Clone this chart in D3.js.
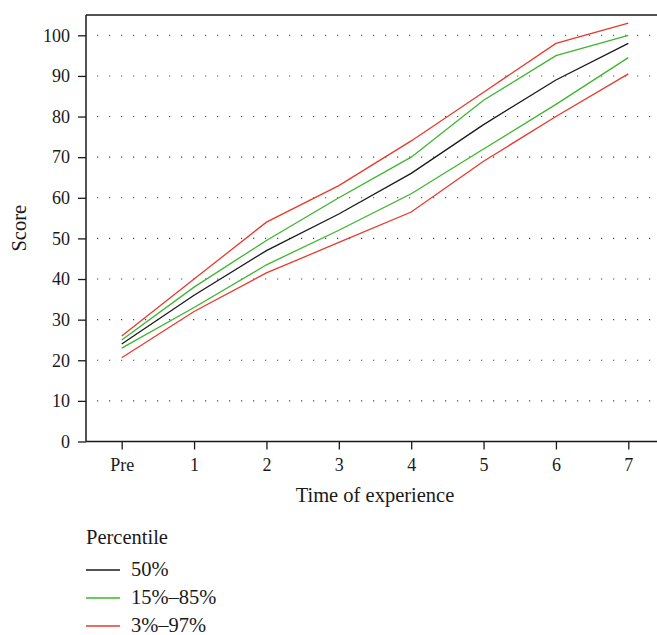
<!DOCTYPE html>
<html>
<head>
<meta charset="utf-8">
<script src="https://cdn.jsdelivr.net/npm/d3@7"></script>
<style>
  html, body { margin: 0; padding: 0; background: #fff; }
  svg { display: block; font-family: "Liberation Serif", "DejaVu Serif", serif; }
</style>
</head>
<body>
<svg id="chart" width="657" height="635"></svg>
<script>
// Time points on the x axis
const categories = ["Pre", "1", "2", "3", "4", "5", "6", "7"];

// Percentile curves of the score
const p50     = [24, 36, 47, 56, 66, 78, 89, 98];
const p15     = [23, 33, 43.5, 52, 61, 72, 83, 94.5];
const p85     = [25, 38, 49.5, 60, 70, 84, 95, 100];
const p3      = [20.6, 32, 41.5, 49, 56.5, 69, 80, 90.5];
const p97     = [26, 40, 54, 63, 74, 86, 98, 103];

const yTicks = [0, 10, 20, 30, 40, 50, 60, 70, 80, 90, 100];

const legendLabels = ["50%", "15%\u201385%", "3%\u201397%"];
const colors = { black: "#1a1a1a", green: "#3db52e", red: "#e8392c" };

const series = [
  { values: p97, color: colors.red },
  { values: p85, color: colors.green },
  { values: p50, color: colors.black },
  { values: p15, color: colors.green },
  { values: p3,  color: colors.red }
];

const svg = d3.select("#chart");
const plotLeft = 86, plotRight = 657, plotTop = 15, plotBottom = 441.5;
const tickFont = "18px", titleFont = "20.5px";

const x = d3.scalePoint().domain(categories).range([121.7, 628.3]);
const y = d3.scaleLinear().domain([0, 105]).range([plotBottom, plotTop]);

// dotted horizontal grid
svg.append("g").selectAll("line").data(yTicks.slice(1)).join("line")
  .attr("x1", 97).attr("x2", plotRight)
  .attr("y1", d => y(d)).attr("y2", d => y(d))
  .attr("stroke", "#444").attr("stroke-width", 1.1)
  .attr("stroke-dasharray", "1.2 10.8");

// frame: top border
svg.append("line").attr("x1", plotLeft).attr("x2", plotRight).attr("y1", plotTop).attr("y2", plotTop)
  .attr("stroke", "#1a1a1a").attr("stroke-width", 1.5);

// y axis
const yAxis = svg.append("g").attr("transform", `translate(${plotLeft},0)`)
  .call(d3.axisLeft(y).tickValues(yTicks).tickSize(8).tickPadding(8).tickSizeOuter(0));
yAxis.select(".domain").attr("d", `M0,${plotTop}V${plotBottom}`);

// x axis
const xAxis = svg.append("g").attr("transform", `translate(0,${plotBottom})`)
  .call(d3.axisBottom(x).tickSize(8).tickPadding(9).tickSizeOuter(0));
xAxis.select(".domain").attr("d", `M${plotLeft},0H${plotRight}`);

[yAxis, xAxis].forEach(a => {
  a.attr("font-family", null).attr("font-size", null);
  a.selectAll(".domain").attr("stroke", "#1a1a1a").attr("stroke-width", 1.5);
  a.selectAll(".tick line").attr("stroke", "#1a1a1a").attr("stroke-width", 1.3);
  a.selectAll("text").attr("fill", "#1a1a1a").style("font-size", tickFont);
});

// percentile lines
const line = d3.line().x((d, i) => x(categories[i])).y(d => y(d));
svg.append("g").selectAll("path").data(series).join("path")
  .attr("d", d => line(d.values))
  .attr("fill", "none").attr("stroke", d => d.color).attr("stroke-width", 1.3);

// axis titles
svg.append("text").attr("x", 375).attr("y", 501.5).attr("text-anchor", "middle")
  .attr("fill", "#1a1a1a").style("font-size", titleFont).text("Time of experience");
svg.append("text").attr("transform", `translate(26,${(plotTop + plotBottom) / 2}) rotate(-90)`)
  .attr("text-anchor", "middle").attr("fill", "#1a1a1a").style("font-size", titleFont).text("Score");

// legend
const lg = svg.append("g");
lg.append("text").attr("x", 86).attr("y", 544.3).attr("fill", "#1a1a1a")
  .style("font-size", titleFont).text("Percentile");
const legendColors = [colors.black, colors.green, colors.red];
legendLabels.forEach((lab, i) => {
  const yy = 570 + i * 28;
  lg.append("line").attr("x1", 86).attr("x2", 120).attr("y1", yy).attr("y2", yy)
    .attr("stroke", legendColors[i]).attr("stroke-width", 1.3);
  lg.append("text").attr("x", 131).attr("y", yy + 5.5).attr("fill", "#1a1a1a")
    .style("font-size", titleFont).text(lab);
});
</script>
</body>
</html>
